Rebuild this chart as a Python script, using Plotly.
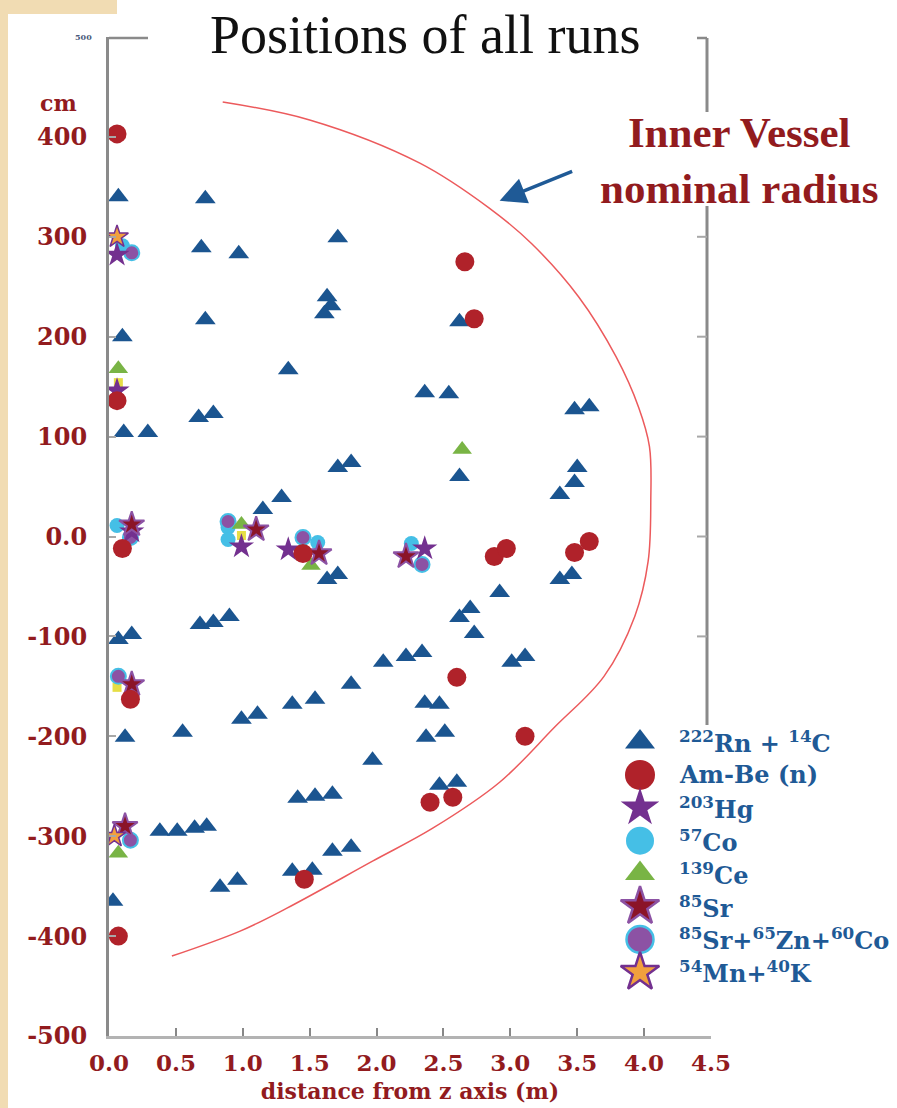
import plotly.graph_objects as go

W, H = 897, 1108

# ---------------- data: distance from z axis (m), height (cm) ----------------
rn_x = [0.07, 0.72, 1.71, 0.69, 0.97, 1.63, 1.66, 1.61, 0.72, 0.10,
        1.34, 2.62, 2.36, 2.54, 3.48, 3.59, 0.67, 0.78, 0.11, 0.29,
        1.71, 1.81, 2.62, 3.50, 3.48, 3.37, 1.15, 1.29, 1.63, 1.71,
        3.46, 3.37, 2.92, 2.70, 2.62, 2.73, 0.68, 0.78, 0.90, 0.07,
        0.17, 2.05, 2.22, 2.34, 3.01, 3.11, 1.81, 1.37, 1.54, 2.36,
        2.47, 0.99, 1.11, 0.55, 0.12, 2.37, 2.51, 1.97, 2.47, 2.60,
        1.41, 1.54, 1.67, 0.38, 0.51, 0.64, 0.73, 1.67, 1.81, 1.37,
        1.52, 0.83, 0.96, 0.03]
rn_y = [340, 338, 299, 289, 283, 240, 231, 223, 217, 200,
        167, 215, 144, 143, 127, 130, 119, 123, 104, 104,
        69, 74, 60, 69, 54, 42, 27, 39, -43, -38,
        -38, -43, -56, -72, -81, -97, -88, -86, -80, -103,
        -98, -126, -120, -116, -126, -120, -148, -168, -163, -167,
        -168, -183, -178, -196, -201, -201, -196, -224, -249, -246,
        -262, -260, -258, -295, -295, -292, -290, -315, -311, -335,
        -334, -351, -344, -365]

ambe_x = [0.06, 0.06, 2.66, 2.73, 0.10, 1.45, 2.88, 2.97, 3.48, 3.59,
          2.60, 0.16, 3.11, 2.40, 2.57, 1.46, 0.07]
ambe_y = [403, 136, 275, 218, -12, -17, -20, -12, -16, -5,
          -141, -163, -200, -266, -261, -343, -400]

hg_x = [0.06, 0.06, 0.17, 0.99, 1.34, 2.36]
hg_y = [282, 146, 5, -10, -13, -12]

co57_x = [0.10, 0.06, 0.89, 0.89, 1.56, 2.26]
co57_y = [291, 11, 9, -3, -6, -7]

ce_x = [0.07, 0.99, 1.51, 2.64, 0.07]
ce_y = [168, 12, -29, 87, -317]

sr_x = [0.17, 1.10, 1.57, 2.22, 0.17, 0.12]
sr_y = [12, 7, -17, -20, -148, -290]

mix_x = [0.17, 0.16, 0.89, 1.45, 2.34, 0.07, 0.16]
mix_y = [284, -1, 15, -1, -28, -140, -304]

mnk_x = [0.06, 0.04]
mnk_y = [300, -300]

other_x = [0.07, 0.99, 0.06]
other_y = [154, 1, -151]

# Inner Vessel nominal radius, traced as (m, cm)
vessel_x = [0.85, 1.50, 2.32, 2.84, 3.16, 3.51, 3.79, 3.96, 4.04, 4.05,
            4.03, 3.93, 3.70, 3.33, 2.92, 2.42, 1.97, 1.33, 0.98, 0.47]
vessel_y = [435, 417, 374, 329, 293, 240, 180, 129, 90, 37,
            -25, -80, -140, -191, -246, -292, -325, -372, -395, -420]

x_ticks = [0.0, 0.5, 1.0, 1.5, 2.0, 2.5, 3.0, 3.5, 4.0, 4.5]
y_ticks = [400, 300, 200, 100, 0, -100, -200, -300, -400, -500]
y_right_ticks = [300, 200, 100, 0, -100]

# ---------------- styling ----------------
RED_TXT = "#921B1E"
BLUE_TXT = "#1F5A96"
SERIF_B = "DejaVu Serif"
TIMES = "Liberation Serif, Times New Roman, serif"

C_RN = "#1B5590"
C_AMBE = "#B0222A"
C_HG = "#73308F"
C_CO = "#45BFE6"
C_CE = "#79B445"
C_SR = "#8B1428"
C_MIX = "#8C52A4"
C_MNK = "#F2A03D"
C_OTHER = "#E6DE45"

# plot area in pixels
PL, PR, PT, PB = 109, 711, 37, 1036


def fx(px):
    return px / W


def fy(py):
    return 1 - py / H


series = [
    dict(x=other_x, y=other_y, symbol="square", size=9, color=C_OTHER, line=None),
    dict(x=co57_x, y=co57_y, symbol="circle", size=15, color=C_CO, line=None),
    dict(x=mix_x, y=mix_y, symbol="circle", size=15, color=C_MIX, line=(C_CO, 2)),
    dict(x=ce_x, y=ce_y, symbol="triangle-up", size=17, color=C_CE, line=None),
    dict(x=hg_x, y=hg_y, symbol="star", size=19, color=C_HG, line=None),
    dict(x=sr_x, y=sr_y, symbol="star", size=19, color=C_SR, line=(C_MIX, 2)),
    dict(x=mnk_x, y=mnk_y, symbol="star", size=17, color=C_MNK, line=(C_HG, 1.5)),
    dict(x=rn_x, y=rn_y, symbol="triangle-up", size=18, color=C_RN, line=None),
    dict(x=ambe_x, y=ambe_y, symbol="circle", size=19, color=C_AMBE, line=None),
]

fig = go.Figure()

fig.add_trace(go.Scatter(
    x=vessel_x, y=vessel_y, mode="lines",
    line=dict(color="#EC5A5C", width=1.5, shape="spline", smoothing=1),
    showlegend=False, hoverinfo="skip"))

for s in series:
    mk = dict(symbol=s["symbol"], size=s["size"], color=s["color"])
    if s["line"]:
        mk["line"] = dict(color=s["line"][0], width=s["line"][1])
    else:
        mk["line"] = dict(width=0)
    fig.add_trace(go.Scatter(x=s["x"], y=s["y"], mode="markers", marker=mk,
                             showlegend=False, hoverinfo="skip"))

# ---------------- legend (drawn on its own small axes) ----------------
legend_items = [
    ("<sup>222</sup>Rn + <sup>14</sup>C", "triangle-up", 26, C_RN, None),
    ("Am-Be (n)", "circle", 30, C_AMBE, None),
    ("<sup>203</sup>Hg", "star", 29, C_HG, None),
    ("<sup>57</sup>Co", "circle", 28, C_CO, None),
    ("<sup>139</sup>Ce", "triangle-up", 26, C_CE, None),
    ("<sup>85</sup>Sr", "star", 29, C_SR, (C_MIX, 2.5)),
    ("<sup>85</sup>Sr+<sup>65</sup>Zn+<sup>60</sup>Co", "circle", 27, C_MIX, (C_CO, 2.5)),
    ("<sup>54</sup>Mn+<sup>40</sup>K", "star", 29, C_MNK, (C_HG, 2.5)),
]
for i, (label, sym, size, col, ln) in enumerate(legend_items):
    row = 22 + 32.9 * i
    mk = dict(symbol=sym, size=size, color=col,
              line=dict(color=ln[0], width=ln[1]) if ln else dict(width=0))
    fig.add_trace(go.Scatter(x=[30], y=[row], mode="markers", marker=mk,
                             xaxis="x2", yaxis="y2", showlegend=False,
                             hoverinfo="skip"))
    fig.add_annotation(x=67, y=row, xref="x2", yref="y2", text=label,
                       showarrow=False, xanchor="left", yanchor="middle",
                       font=dict(family=SERIF_B, size=24, color=BLUE_TXT,
                                 weight="bold"))

# ---------------- frame pieces ----------------
gray = "#8a8a8a"
shapes = [
    # slide background strips
    dict(type="rect", xref="paper", yref="paper", x0=0, x1=fx(8), y0=0, y1=1,
         fillcolor="#F1DCB3", line=dict(width=0), layer="below"),
    dict(type="rect", xref="paper", yref="paper", x0=0, x1=fx(117), y0=fy(14), y1=1,
         fillcolor="#F1DCB3", line=dict(width=0), layer="below"),
    # top edge of the box (interrupted by the title)
    dict(type="line", xref="paper", yref="paper", x0=fx(PL), x1=fx(148),
         y0=fy(38), y1=fy(38), line=dict(color=gray, width=2.5)),
    dict(type="line", xref="paper", yref="paper", x0=fx(697), x1=fx(707),
         y0=fy(38), y1=fy(38), line=dict(color=gray, width=2.5)),
    # right edge (interrupted by the vessel label and the legend)
    dict(type="line", xref="paper", yref="paper", x0=fx(707), x1=fx(707),
         y0=fy(38), y1=fy(112), line=dict(color=gray, width=3)),
    dict(type="line", xref="paper", yref="paper", x0=fx(707), x1=fx(707),
         y0=fy(206), y1=fy(725), line=dict(color=gray, width=3)),
]
for v in y_right_ticks:
    shapes.append(dict(type="line", xref="paper", yref="y", x0=fx(697), x1=fx(707),
                       y0=v, y1=v, line=dict(color="#a8a8a8", width=2)))

annotations = [
    dict(text="Positions of all runs", xref="paper", yref="paper",
         x=fx(425), y=fy(35), xanchor="center", yanchor="middle",
         showarrow=False, bgcolor="white",
         font=dict(family=TIMES, size=54, color="#111111")),
    dict(text="Inner Vessel<br>nominal radius", xref="paper", yref="paper",
         x=fx(739), y=fy(160), xanchor="center", yanchor="middle",
         showarrow=False, align="center",
         font=dict(family=TIMES, size=43, color=RED_TXT, weight="bold")),
    dict(text="", x=2.92, y=336, xref="x", yref="y", ax=74, ay=-30,
         showarrow=True, arrowhead=2, arrowsize=1.5, arrowwidth=3.5,
         arrowcolor=BLUE_TXT),
    dict(text="cm", xref="paper", yref="paper", x=fx(59), y=fy(103),
         xanchor="center", yanchor="middle", showarrow=False,
         font=dict(family=SERIF_B, size=22, color=RED_TXT, weight="bold")),
    dict(text="500", xref="paper", yref="paper", x=fx(83), y=fy(37),
         xanchor="center", yanchor="middle", showarrow=False,
         font=dict(family=SERIF_B, size=8, color="#4a5a7a", weight="bold")),
]

fig.update_layout(
    width=W, height=H,
    margin=dict(l=0, r=0, t=0, b=0),
    paper_bgcolor="white", plot_bgcolor="white",
    showlegend=False,
    shapes=shapes,
    annotations=list(fig.layout.annotations) + annotations,
    xaxis=dict(
        domain=[fx(PL), fx(PR)], range=[0, 4.5], anchor="y",
        tickvals=x_ticks, ticktext=[f"{v:.1f}" for v in x_ticks],
        ticks="inside", ticklen=8, tickwidth=2, tickcolor="#888888",
        showline=True, linecolor="#b3b3b3", linewidth=3,
        showgrid=False, zeroline=False, automargin=False,
        ticklabelstandoff=4,
        tickfont=dict(family=SERIF_B, size=23, color=RED_TXT, weight="bold"),
        title=dict(text="distance from z axis (m)", standoff=10,
                   font=dict(family=SERIF_B, size=22, color=RED_TXT, weight="bold")),
    ),
    yaxis=dict(
        domain=[fy(PB), fy(PT)], range=[-500, 500], anchor="x",
        tickvals=y_ticks,
        ticktext=["0.0" if v == 0 else str(v) for v in y_ticks],
        ticks="inside", ticklen=7, tickwidth=2, tickcolor="#a8a8a8",
        showline=True, linecolor=gray, linewidth=3,
        showgrid=False, zeroline=False, automargin=False,
        ticklabelstandoff=14,
        tickfont=dict(family=SERIF_B, size=24, color=RED_TXT, weight="bold"),
    ),
    xaxis2=dict(domain=[fx(610), 1.0], range=[0, 287], anchor="y2",
                visible=False, fixedrange=True),
    yaxis2=dict(domain=[fy(1000), fy(720)], range=[280, 0], anchor="x2",
                visible=False, fixedrange=True),
)

fig.write_html("out.html")
